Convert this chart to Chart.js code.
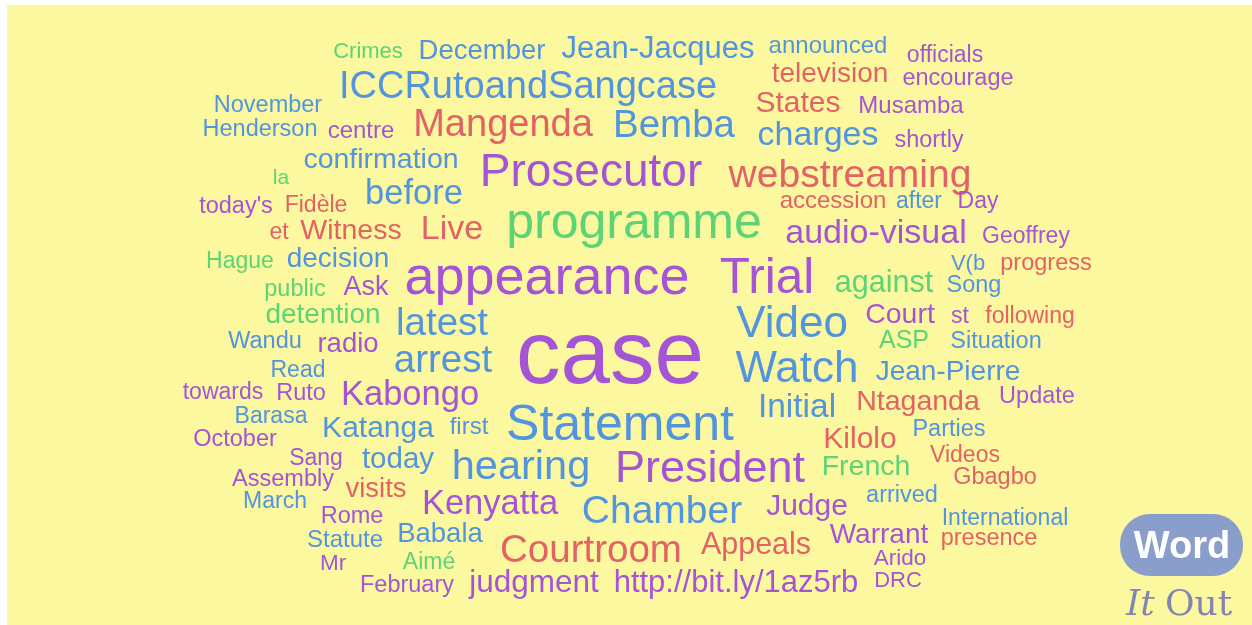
<!DOCTYPE html>
<html>
<head>
<meta charset="utf-8">
<script src="https://cdn.jsdelivr.net/npm/chart.js@4.4.1/dist/chart.umd.min.js"></script>
<style>
  body { margin: 0; background: #fff; }
  canvas { display: block; }
</style>
</head>
<body>
<canvas id="chart" width="1252" height="625"></canvas>
<script>
const words = [
  "Crimes", "December", "Jean-Jacques", "announced", "officials",
  "ICCRutoandSangcase", "television", "encourage", "November", "States",
  "Musamba", "Henderson", "centre", "Mangenda", "Bemba",
  "charges", "shortly", "confirmation", "Prosecutor", "webstreaming",
  "la", "before", "today's", "Fidèle", "accession",
  "after", "Day", "programme", "et", "Witness",
  "Live", "audio-visual", "Geoffrey", "Hague", "decision",
  "appearance", "Trial", "V(b", "progress", "public",
  "Ask", "against", "Song", "detention", "latest",
  "Video", "Court", "st", "following", "Wandu",
  "radio", "case", "ASP", "Situation", "arrest",
  "Watch", "Read", "Jean-Pierre", "towards", "Ruto",
  "Kabongo", "Update", "Initial", "Ntaganda", "Barasa",
  "Statement", "Katanga", "first", "October", "Parties",
  "Kilolo", "Sang", "today", "hearing", "President",
  "French", "Videos", "Assembly", "visits", "Gbagbo",
  "Kenyatta", "Chamber", "Judge", "arrived", "March",
  "Rome", "International", "Statute", "Babala", "Warrant",
  "presence", "Courtroom", "Appeals", "Mr", "Aimé",
  "Arido", "February", "judgment", "http://bit.ly/1az5rb", "DRC"
];

// word centre along x
const xs = [
  368, 482, 658, 828, 945,
  528, 830, 958, 268, 798,
  911, 260, 361, 503, 674,
  818, 929, 381, 591, 850,
  281, 414, 236, 316, 833,
  919, 978, 634, 279, 351,
  452, 876, 1026, 240, 338,
  547, 767, 968, 1046, 295,
  366, 884, 974, 323, 442,
  792, 900, 960, 1030, 265,
  348, 610, 904, 996, 443,
  797, 298, 948, 223, 301,
  410, 1037, 797, 918, 271,
  620, 378, 469, 235, 949,
  860, 316, 398, 521, 710,
  866, 965, 283, 376, 995,
  490, 662, 807, 902, 275,
  352, 1005, 345, 440, 879,
  989, 591, 756, 333, 429,
  900, 407, 534, 736, 898
];

// text baseline along y
const ys = [
  58, 59, 58, 53, 62,
  98, 82, 85, 112, 112,
  113, 136, 138, 136, 137,
  145, 147, 168, 186, 187,
  184, 204, 213, 212, 208,
  208, 208, 238, 239, 239,
  239, 243, 243, 268, 267,
  294, 293, 270, 270, 296,
  295, 292, 292, 323, 335,
  337, 323, 323, 323, 348,
  352, 383, 348, 348, 372,
  382, 377, 380, 399, 400,
  405, 403, 417, 410, 423,
  440, 437, 434, 446, 436,
  448, 465, 468, 479, 482,
  475, 462, 486, 497, 484,
  514, 523, 515, 502, 508,
  523, 525, 547, 542, 543,
  545, 562, 554, 570, 569,
  565, 592, 592, 592, 587
];

// word weight (font size in px)
const weights = [
  22, 27.5, 31, 24, 23,
  38, 28, 23.5, 23.5, 30,
  24, 23.5, 24, 38, 38.5,
  34, 23.5, 28.5, 46, 39,
  21, 34.5, 23.5, 23, 24,
  23, 23, 50, 23, 28.5,
  34, 34, 23, 23, 28,
  54, 49.5, 22, 23.5, 23.5,
  27, 30.5, 23.5, 28, 38.5,
  44, 28.5, 23, 23, 23.5,
  27.5, 89, 25, 23.5, 38.5,
  44, 23, 28, 23, 23.5,
  34.5, 23.5, 33.5, 28.5, 23,
  50, 30, 24, 23.5, 23.5,
  30, 23, 29.5, 41.5, 45,
  28.5, 23, 23.5, 27.5, 23.5,
  34.5, 39, 30, 23.5, 23,
  23.5, 23, 24, 27.5, 28,
  23.5, 38.5, 30.5, 22.5, 23,
  22.5, 23.5, 31.5, 31, 22
];

// colour group: b blue, p purple, r red, g green
const groups = [
  "g", "b", "b", "b", "p",
  "b", "r", "p", "b", "r",
  "p", "b", "p", "r", "b",
  "b", "p", "b", "p", "r",
  "g", "b", "p", "r", "r",
  "b", "p", "g", "r", "r",
  "r", "p", "p", "g", "b",
  "p", "p", "b", "r", "g",
  "p", "g", "b", "g", "b",
  "b", "p", "p", "r", "b",
  "p", "p", "g", "b", "b",
  "b", "b", "b", "p", "p",
  "p", "p", "b", "r", "b",
  "b", "b", "b", "p", "b",
  "r", "p", "b", "b", "p",
  "g", "r", "p", "r", "r",
  "p", "b", "p", "b", "b",
  "p", "b", "b", "b", "p",
  "r", "r", "r", "p", "g",
  "p", "p", "p", "p", "p"
];

const palette = {
  b: "rgb(82, 148, 222)",
  p: "rgb(164, 84, 212)",
  r: "rgb(226, 98, 102)",
  g: "rgb(92, 212, 118)"
};

const points = words.map((w, i) => ({ x: xs[i], y: ys[i] }));

const cloudPlugin = {
  id: "cloud",
  beforeDraw(chart) {
    const ctx = chart.ctx;
    ctx.save();
    ctx.fillStyle = "#ffffff";
    ctx.fillRect(0, 0, chart.width, chart.height);
    ctx.fillStyle = "rgb(252, 248, 160)";
    ctx.fillRect(7, 5, chart.width - 7, chart.height - 5);
    ctx.restore();
  },
  afterDatasetsDraw(chart) {
    const ctx = chart.ctx;
    const meta = chart.getDatasetMeta(0);
    ctx.save();
    ctx.textAlign = "center";
    ctx.textBaseline = "alphabetic";
    meta.data.forEach((pt, i) => {
      ctx.font = weights[i] + 'px "Liberation Sans", Arial, sans-serif';
      ctx.fillStyle = palette[groups[i]];
      ctx.fillText(words[i], pt.x, pt.y);
    });

    // WordItOut badge
    ctx.fillStyle = "rgb(138, 158, 204)";
    ctx.beginPath();
    ctx.roundRect(1120, 514, 123, 62, 30);
    ctx.fill();
    ctx.fillStyle = "#ffffff";
    ctx.font = 'bold 38px "Liberation Sans", Arial, sans-serif';
    ctx.fillText("Word", 1182, 558);
    ctx.fillStyle = "rgb(132, 132, 178)";
    ctx.textAlign = "left";
    ctx.font = 'italic 36px "DejaVu Serif", serif';
    ctx.fillText("It", 1126, 615);
    ctx.font = '36px "DejaVu Serif", serif';
    ctx.fillText("Out", 1165, 615);
    ctx.restore();
  }
};

new Chart(document.getElementById("chart"), {
  type: "scatter",
  data: {
    datasets: [{ data: points, pointRadius: 0, pointHoverRadius: 0 }]
  },
  options: {
    responsive: false,
    animation: false,
    layout: { padding: 0 },
    plugins: { legend: { display: false }, tooltip: { enabled: false } },
    scales: {
      x: { type: "linear", min: 0, max: 1252, display: false },
      y: { type: "linear", min: 0, max: 625, reverse: true, display: false }
    }
  },
  plugins: [cloudPlugin]
});
</script>
</body>
</html>
